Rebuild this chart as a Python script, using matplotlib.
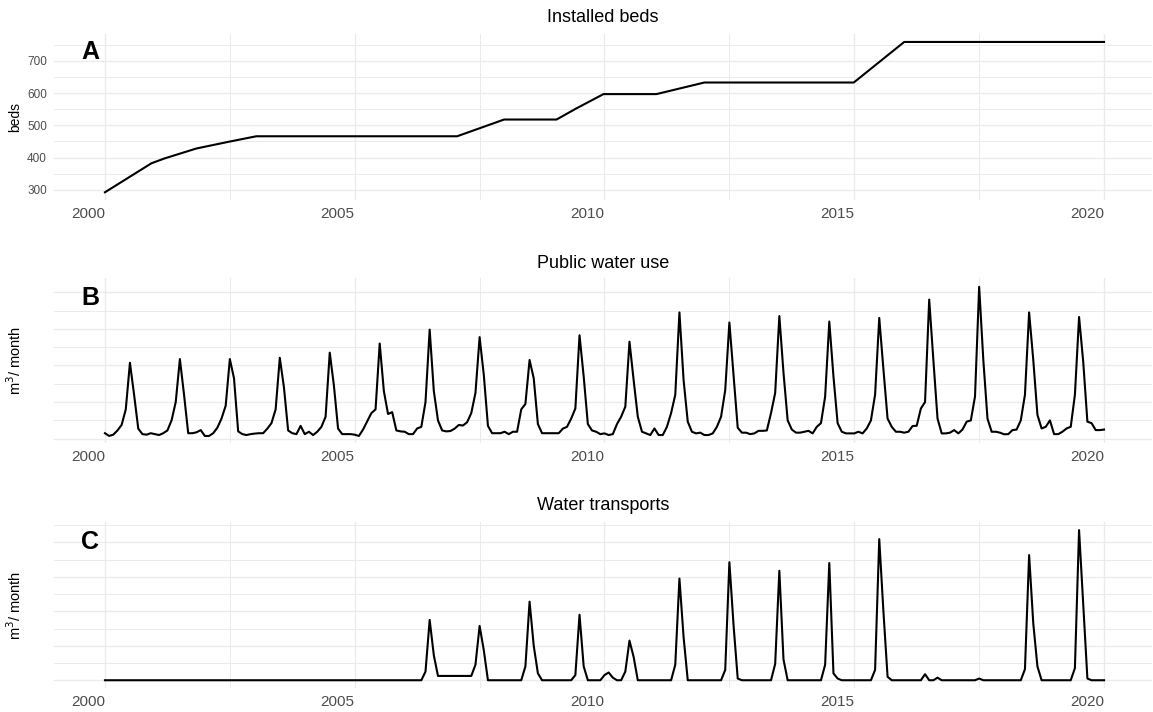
import numpy as np
import matplotlib
matplotlib.use('Agg')
import matplotlib.pyplot as plt

plt.rcParams['font.family'] = ['Liberation Sans', 'DejaVu Sans']

# panel A: installed beds (piecewise, read at the kinks)
beds_year = [2000.0, 2000.93, 2001.19, 2001.83, 2002.48, 2003.03, 2007.05, 2007.99,
             2009.04, 2009.43, 2009.98, 2011.04, 2012.0, 2014.99, 2016.0, 2020.0]
beds = [292, 382, 397, 428, 449, 466, 466, 518, 518, 552, 597, 597, 633, 633, 759, 759]

# panel B: public water use, monthly Jan 2000 .. Jan 2020 (thousand m3, no axis labels)
water_use = [
    0.30, 0.15, 0.22, 0.45, 0.75, 1.60, 4.15, 2.40, 0.55, 0.25, 0.22, 0.30,  # 2000
    0.25, 0.20, 0.30, 0.45, 1.00, 2.00, 4.35, 2.40, 0.30, 0.30, 0.35, 0.47,  # 2001
    0.15, 0.15, 0.30, 0.60, 1.10, 1.80, 4.35, 3.30, 0.40, 0.25, 0.20, 0.25,  # 2002
    0.28, 0.30, 0.30, 0.55, 0.85, 1.60, 4.42, 2.80, 0.45, 0.30, 0.25, 0.70,  # 2003
    0.25, 0.38, 0.20, 0.38, 0.65, 1.20, 4.70, 2.90, 0.55, 0.25, 0.25, 0.25,  # 2004
    0.22, 0.15, 0.50, 0.95, 1.40, 1.60, 5.20, 2.60, 1.35, 1.45, 0.45, 0.40,  # 2005
    0.38, 0.25, 0.25, 0.56, 0.65, 2.00, 5.96, 2.60, 1.00, 0.45, 0.40, 0.42,  # 2006
    0.55, 0.75, 0.72, 0.90, 1.40, 2.50, 5.55, 3.50, 0.70, 0.30, 0.30, 0.30,  # 2007
    0.38, 0.25, 0.38, 0.38, 1.60, 1.90, 4.30, 3.30, 0.80, 0.30, 0.30, 0.30,  # 2008
    0.30, 0.30, 0.55, 0.65, 1.10, 1.65, 5.65, 3.40, 0.80, 0.45, 0.38, 0.25,  # 2009
    0.29, 0.20, 0.25, 0.80, 1.20, 1.75, 5.30, 3.20, 1.20, 0.38, 0.29, 0.20,  # 2010
    0.56, 0.20, 0.20, 0.65, 1.40, 2.40, 6.90, 3.20, 0.93, 0.38, 0.29, 0.33,  # 2011
    0.20, 0.20, 0.29, 0.65, 1.20, 2.65, 6.35, 3.50, 0.60, 0.33, 0.33, 0.25,  # 2012
    0.29, 0.43, 0.43, 0.45, 1.40, 2.50, 6.70, 3.60, 1.00, 0.50, 0.33, 0.33,  # 2013
    0.38, 0.43, 0.29, 0.65, 0.85, 2.30, 6.40, 3.40, 0.85, 0.38, 0.29, 0.29,  # 2014
    0.29, 0.38, 0.29, 0.56, 1.00, 2.40, 6.60, 3.80, 1.10, 0.65, 0.38, 0.38,  # 2015
    0.33, 0.38, 0.69, 0.71, 1.65, 2.00, 7.60, 4.30, 1.10, 0.29, 0.29, 0.33,  # 2016
    0.47, 0.29, 0.50, 0.93, 1.00, 2.30, 8.30, 4.30, 1.10, 0.38, 0.38, 0.33,  # 2017
    0.24, 0.25, 0.47, 0.50, 1.00, 2.40, 6.90, 4.30, 1.30, 0.56, 0.65, 1.00,  # 2018
    0.25, 0.25, 0.38, 0.56, 0.65, 2.40, 6.65, 4.20, 0.93, 0.85, 0.47, 0.47,  # 2019
    0.50,                                                                    # 2020
]

# panel C: water transports, monthly Jan 2000 .. Jan 2020
zeros_year = [0, 0, 0, 0, 0, 0, 0, 0, 0, 0, 0, 0]
transports = (
    zeros_year * 6 +                                          # 2000-2005
    [0, 0, 0, 0, 0, 0.50, 3.50, 1.45, 0.25, 0.25, 0.25, 0.25] +  # 2006
    [0.25, 0.25, 0.25, 0.25, 0.25, 0.90, 3.15, 1.75, 0, 0, 0, 0] +  # 2007
    [0, 0, 0, 0, 0, 0.80, 4.56, 2.00, 0.40, 0, 0, 0] +           # 2008
    [0, 0, 0, 0, 0, 0.30, 3.80, 0.80, 0, 0, 0, 0] +              # 2009
    [0.30, 0.45, 0.15, 0, 0, 0.50, 2.30, 1.35, 0, 0, 0, 0] +     # 2010
    [0, 0, 0, 0, 0, 0.90, 5.90, 2.50, 0, 0, 0, 0] +              # 2011
    [0, 0, 0, 0, 0, 0.60, 6.85, 3.20, 0.10, 0, 0, 0] +           # 2012
    [0, 0, 0, 0, 0, 0.95, 6.35, 1.20, 0, 0, 0, 0] +              # 2013
    [0, 0, 0, 0, 0, 0.90, 6.80, 0.40, 0.10, 0, 0, 0] +           # 2014
    [0, 0, 0, 0, 0, 0.60, 8.19, 4.00, 0.20, 0, 0, 0] +           # 2015
    [0, 0, 0, 0, 0, 0.35, 0, 0, 0.15, 0, 0, 0] +                 # 2016
    [0, 0, 0, 0, 0, 0, 0.10, 0, 0, 0, 0, 0] +                    # 2017
    [0, 0, 0, 0, 0, 0.64, 7.26, 3.30, 0.80, 0, 0, 0] +           # 2018
    [0, 0, 0, 0, 0, 0.70, 8.71, 4.40, 0.10, 0, 0, 0] +           # 2019
    [0]                                                          # 2020
)

months = 2000 + np.arange(len(water_use)) / 12.0

year_ticks = [2000, 2005, 2010, 2015, 2020]
year_minor = [2002.5, 2007.5, 2012.5, 2017.5]

W, H = 1153, 712
fig = plt.figure(figsize=(W / 100, H / 100), dpi=100)


def panel(top, bottom):
    left, right = 54, 1152
    return fig.add_axes([left / W, 1 - bottom / H, (right - left) / W, (bottom - top) / H])


def style(ax, ymajor, yminor, show_y):
    ax.set_xlim(1998.98, 2020.96)
    ax.set_xticks(year_ticks)
    ax.set_xticklabels([str(y) for y in year_ticks], ha='right')
    ax.set_xticks(year_minor, minor=True)
    ax.set_yticks(ymajor)
    ax.set_yticks(yminor, minor=True)
    ax.grid(True, which='major', color='#EBEBEB', linewidth=1.0)
    ax.grid(True, which='minor', color='#EBEBEB', linewidth=0.7)
    ax.set_axisbelow(True)
    for s in ax.spines.values():
        s.set_visible(False)
    ax.tick_params(which='both', length=0)
    ax.tick_params(axis='x', labelsize=11, colors='#4D4D4D', pad=5)
    ax.tick_params(axis='y', labelsize=8.5, colors='#4D4D4D', pad=5, labelleft=show_y)


# A
axA = panel(34, 200)
axA.plot(beds_year, beds, color='black', linewidth=1.5)
style(axA, [300, 400, 500, 600, 700], [350, 450, 550, 650, 750], True)
axA.set_ylim(268, 783.7)

# B
axB = panel(278, 443)
axB.plot(months, water_use, color='black', linewidth=1.5)
style(axB, [0, 2, 4, 6, 8], [1, 3, 5, 7], False)
axB.set_ylim(-0.235, 8.78)

# C
axC = panel(522, 688)
axC.plot(months, transports, color='black', linewidth=1.5)
style(axC, [0, 2, 4, 6, 8], [1, 3, 5, 7, 9], False)
axC.set_ylim(-0.45, 9.18)

for ax, lab, yc in [(axA, 'A', 0.89), (axB, 'B', 0.88), (axC, 'C', 0.88)]:
    ax.text(0.033, yc, lab, transform=ax.transAxes, fontsize=18, fontweight='bold',
            ha='center', va='center')

for title, yc in [('Installed beds', 18), ('Public water use', 263), ('Water transports', 506)]:
    fig.text(603 / W, 1 - yc / H, title, ha='center', va='center', fontsize=13)

fig.text(15 / W, 1 - 117 / H, 'beds', rotation=90, ha='center', va='center', fontsize=10)
fig.text(15 / W, 1 - 360 / H, r'm$^3$/ month', rotation=90, ha='center', va='center', fontsize=10.5)
fig.text(15 / W, 1 - 605 / H, r'm$^3$/ month', rotation=90, ha='center', va='center', fontsize=10.5)

fig.savefig('out.png', dpi=100)
